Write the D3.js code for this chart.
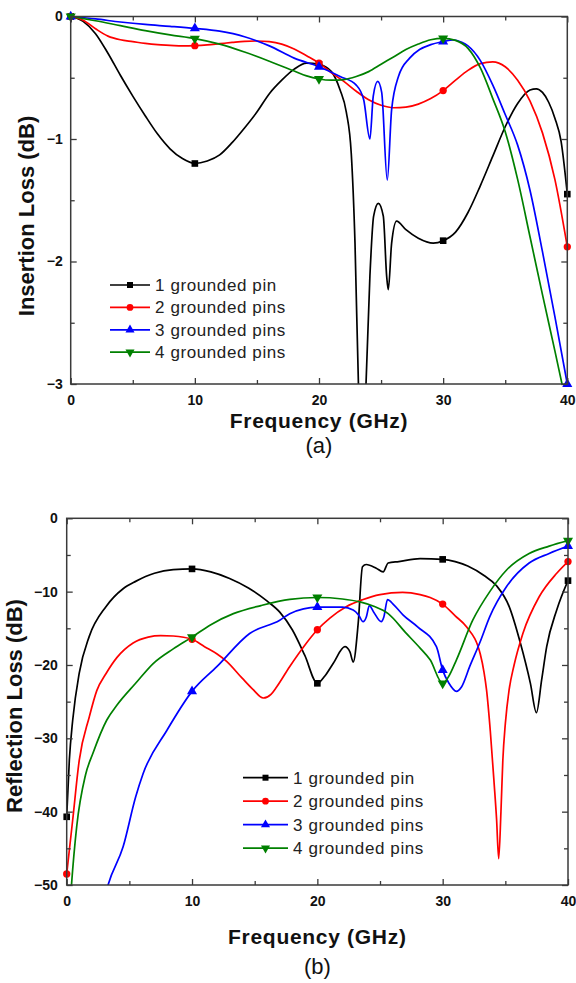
<!DOCTYPE html>
<html lang="en">
<head>
  <meta charset="UTF-8">
  <script src="https://cdn.jsdelivr.net/npm/d3@7"></script>
  <title>Insertion / Reflection Loss</title>
  <style>
    body { margin: 0; background: #fff; }
    text { font-family: "Liberation Sans", Arial, sans-serif; }
  </style>
</head>
<body>
  <svg width="576" height="983"></svg>
<script>
  const svg = d3.select("svg");

  // series names + colours
  const seriesNames = ["1 grounded pin", "2 grounded pins", "3 grounded pins", "4 grounded pins"];
  const seriesColors = ["#000000", "#ff0000", "#0000ff", "#008000"];
  const seriesSymbols = [d3.symbolSquare, d3.symbolCircle, d3.symbolTriangle, d3.symbolTriangle];
  const markerFreqs = [0, 10, 20, 30, 40];

  const xTicks = [0, 10, 20, 30, 40];
  const ilTicks = [0, -1, -2, -3];
  const rlTicks = [0, -10, -20, -30, -40, -50];

  // (a) insertion loss, [GHz, dB]
  const il1 = [[0,0],[1,-0.04],[2,-0.14],[3,-0.3],[4,-0.48],[5,-0.65],[6,-0.81],[7,-0.96],[8,-1.08],[9,-1.16],[10,-1.2],
    [11,-1.18],[12,-1.13],[13,-1.03],[14,-0.91],[15,-0.78],[16,-0.63],[17,-0.52],[18,-0.43],[19,-0.38],[20,-0.39],
    [21,-0.45],[21.7,-0.6],[22.2,-0.78],[22.6,-1.12],[22.9,-1.85],[23.2,-3.1],[23.45,-3.6],[23.75,-3.1],[24.1,-2.12],
    [24.4,-1.63],[24.78,-1.525],[25.18,-1.63],[25.45,-2.12],[25.58,-2.23],[25.85,-1.85],[26.25,-1.67],[27,-1.74],
    [28,-1.81],[29.2,-1.85],[30,-1.83],[31,-1.76],[32,-1.6],[33,-1.38],[34,-1.14],[35,-0.9],[36,-0.71],[37,-0.6],
    [37.5,-0.59],[38,-0.62],[38.5,-0.7],[39,-0.83],[39.5,-1.02],[40,-1.45]];
  const il2 = [[0,0],[1,-0.03],[2,-0.1],[3,-0.16],[4,-0.19],[5,-0.205],[6,-0.22],[7,-0.23],[8,-0.235],[9,-0.24],[10,-0.238],
    [11,-0.232],[12,-0.222],[13,-0.212],[14,-0.203],[15,-0.2],[16,-0.205],[17,-0.225],[18,-0.265],[19,-0.32],[20,-0.38],
    [21,-0.46],[22,-0.53],[23,-0.61],[24,-0.68],[25,-0.725],[26,-0.745],[27,-0.74],[28,-0.715],[29,-0.67],[30,-0.605],
    [31,-0.52],[32,-0.44],[33,-0.385],[34,-0.37],[35,-0.41],[36,-0.52],[37,-0.69],[38,-0.95],[39,-1.33],[40,-1.88]];
  const il3 = [[0,0],[2,-0.02],[4,-0.045],[6,-0.065],[8,-0.08],[10,-0.097],[12,-0.12],[14,-0.165],[16,-0.24],[18,-0.34],
    [20,-0.41],[21.7,-0.49],[23,-0.56],[23.6,-0.68],[24.1,-1.0],[24.37,-0.65],[24.73,-0.53],[25.05,-0.62],[25.5,-1.335],
    [25.85,-0.76],[26.4,-0.49],[27.3,-0.34],[28.1,-0.27],[29,-0.23],[30,-0.205],[30.8,-0.19],[31.5,-0.21],[32,-0.24],
    [33,-0.36],[34,-0.56],[35,-0.8],[36,-1.05],[37,-1.42],[38,-1.92],[39,-2.45],[40,-3.0]];
  const il4 = [[0,0],[2,-0.035],[4,-0.075],[6,-0.115],[8,-0.15],[10,-0.18],[12,-0.225],[14,-0.29],[16,-0.365],[18,-0.445],
    [19,-0.485],[20,-0.51],[21,-0.52],[22,-0.515],[23,-0.49],[24,-0.45],[25,-0.39],[26,-0.33],[27,-0.27],[28,-0.225],
    [29,-0.19],[30,-0.178],[31,-0.195],[32,-0.26],[33,-0.42],[34,-0.67],[35,-0.94],[36,-1.33],[37,-1.8],[38,-2.27],
    [39,-2.73],[40,-3.2]];

  // (b) reflection loss, [GHz, dB]
  const rl1 = [[0,-40.7],[0.21,-33],[0.48,-27.5],[1,-21.1],[1.8,-16.1],[3.13,-12.05],[4.5,-9.6],[5.5,-8.6],[7,-7.5],
    [8.5,-7.0],[10,-6.9],[11.5,-7.3],[13,-8.2],[14.5,-9.5],[16,-11.3],[17,-12.8],[18,-15.2],[19,-18.7],[20,-22.5],
    [20.6,-21.5],[21.26,-19.8],[22.2,-17.5],[22.6,-18.2],[22.86,-19.6],[23.26,-14.3],[23.6,-6.6],[23.9,-6.3],[24.7,-6.8],
    [25.25,-7.3],[25.65,-6.1],[26.5,-5.9],[28.2,-5.5],[30,-5.6],[31,-5.9],[32,-6.5],[33.3,-7.8],[34.3,-9.2],[35.3,-12],
    [36.2,-17],[37,-22.5],[37.48,-26.5],[37.9,-22],[38.3,-17.5],[39.1,-12.5],[40,-8.5]];
  const rl2 = [[0,-48.5],[0.48,-41.1],[1,-33],[1.8,-27.1],[2.4,-23.5],[3.13,-21.2],[4,-19],[5.3,-17],[6.5,-16.2],[7.5,-16],
    [8.5,-16.05],[10,-16.5],[11,-17.5],[12,-18.5],[12.76,-19.5],[14,-21.8],[14.9,-23.4],[15.68,-24.5],[16.3,-24],
    [16.75,-23],[17.8,-20.2],[19,-17.3],[20,-15.2],[21,-13.6],[22.3,-12.05],[23.6,-11.1],[25,-10.4],[26.8,-10.1],
    [28.2,-10.4],[29,-10.8],[30,-11.7],[31,-13.3],[31.9,-14.8],[33,-18.5],[33.3,-21],[33.5,-23.4],[33.8,-29],[34.1,-36],
    [34.3,-41],[34.47,-46.4],[34.65,-40],[34.8,-33],[35,-28],[35.3,-23.4],[35.7,-20],[36.4,-15.7],[37.7,-10.7],
    [39.1,-7.5],[40,-5.9]];
  const rl3 = [[3.0,-52],[3.3,-50],[4.5,-44.8],[5.5,-38],[6.1,-34.8],[8,-28.9],[10,-23.6],[12,-20.2],[14.6,-15.7],
    [17,-13.9],[17.8,-13],[20,-12.1],[22,-12.1],[22.86,-12.5],[23.3,-13.2],[23.65,-14.1],[23.9,-13.5],[24.15,-11.9],
    [24.5,-12.8],[25.1,-14.1],[25.3,-13.5],[25.6,-11.1],[26.1,-11.8],[26.85,-13.2],[28,-14.8],[29.5,-17.5],[30,-20.7],
    [30.5,-22.5],[31.1,-23.6],[31.5,-23],[32.16,-20.2],[33,-16.8],[33.76,-13.4],[35.1,-9.3],[36.9,-6.1],[38.5,-4.8],
    [40,-3.8]];
  const rl4 = [[0.3,-52],[0.34,-51],[0.8,-42],[1.5,-35],[2.1,-32],[3.2,-27.5],[4,-25.5],[5.5,-22.5],[6.9,-19.8],
    [8.5,-17.8],[10,-16.2],[11.5,-14.5],[13.3,-13],[15.5,-11.9],[17.8,-11.05],[20,-10.8],[22,-11],[23.4,-11.4],
    [24.5,-12],[25.65,-13],[27.1,-15.7],[28.2,-17.7],[29,-19.3],[30,-22.5],[30.5,-21.5],[31.1,-19.3],[32.4,-13.9],
    [33.76,-10],[35.1,-7.05],[36.9,-4.8],[38.5,-3.8],[40,-3.05]];

  function drawPanel(cfg) {
    const x = d3.scaleLinear().domain([0, 40]).range([cfg.left, cfg.right]);
    const y = d3.scaleLinear().domain(cfg.yDomain).range([cfg.top, cfg.bottom]);
    const g = svg.append("g").attr("class", cfg.id);

    g.append("defs").append("clipPath").attr("id", "clip-" + cfg.id)
      .append("rect")
      .attr("x", cfg.left).attr("y", cfg.top)
      .attr("width", cfg.right - cfg.left).attr("height", cfg.bottom - cfg.top);

    // lines
    const line = d3.line()
      .x(d => x(d[0]))
      .y(d => y(d[1]))
      .curve(d3.curveMonotoneX);

    const plot = g.append("g").attr("clip-path", "url(#clip-" + cfg.id + ")");
    cfg.series.forEach((s, i) => {
      plot.append("path")
        .attr("d", line(s))
        .attr("fill", "none")
        .attr("stroke", seriesColors[i])
        .attr("stroke-width", 1.7);
    });

    // markers every 10 GHz
    const yMin = d3.min(cfg.yDomain), yMax = d3.max(cfg.yDomain);
    cfg.series.forEach((s, i) => {
      const pts = s.filter(d => markerFreqs.includes(d[0]) && d[1] >= yMin && d[1] <= yMax);
      g.selectAll(".mk" + i)
        .data(pts)
        .join("path")
        .attr("transform", d => "translate(" + x(d[0]) + "," + y(d[1]) + ")" + (i === 3 ? " rotate(180)" : ""))
        .attr("d", d3.symbol().type(seriesSymbols[i]).size(i === 1 ? 42 : 44))
        .attr("fill", seriesColors[i]);
    });

    // axes, ticks pointing inwards
    const minorX = [5, 15, 25, 35];
    const minorY = cfg.minorY;
    const axisColor = "#3a3a3a";

    g.append("g").attr("transform", "translate(0," + cfg.bottom + ")")
      .call(d3.axisBottom(x).tickValues(xTicks).tickSize(-6).tickPadding(11).tickFormat(d3.format("d")));
    g.append("g").attr("transform", "translate(0," + cfg.bottom + ")")
      .call(d3.axisBottom(x).tickValues(minorX).tickSize(-4).tickFormat(""));
    g.append("g").attr("transform", "translate(0," + cfg.top + ")")
      .call(d3.axisTop(x).tickValues(xTicks).tickSize(-6).tickFormat(""));
    g.append("g").attr("transform", "translate(0," + cfg.top + ")")
      .call(d3.axisTop(x).tickValues(minorX).tickSize(-4).tickFormat(""));

    g.append("g").attr("transform", "translate(" + cfg.left + ",0)")
      .call(d3.axisLeft(y).tickValues(cfg.yTicks).tickSize(-6).tickPadding(cfg.yPad).tickFormat(d3.format("d")));
    g.append("g").attr("transform", "translate(" + cfg.left + ",0)")
      .call(d3.axisLeft(y).tickValues(minorY).tickSize(-4).tickFormat(""));
    g.append("g").attr("transform", "translate(" + cfg.right + ",0)")
      .call(d3.axisRight(y).tickValues(cfg.yTicks).tickSize(-6).tickFormat(""));
    g.append("g").attr("transform", "translate(" + cfg.right + ",0)")
      .call(d3.axisRight(y).tickValues(minorY).tickSize(-4).tickFormat(""));

    g.selectAll(".domain").remove();
    g.selectAll(".tick line").attr("stroke", axisColor).attr("stroke-width", 1.3);
    g.selectAll(".tick text")
      .attr("fill", "#111")
      .style("font-size", "14px")
      .style("font-weight", "bold")
      .style("font-family", "'Liberation Sans', Arial, sans-serif");

    g.append("rect")
      .attr("x", cfg.left).attr("y", cfg.top)
      .attr("width", cfg.right - cfg.left).attr("height", cfg.bottom - cfg.top)
      .attr("fill", "none")
      .attr("stroke", axisColor)
      .attr("stroke-width", 1.5);

    // axis titles
    g.append("text")
      .attr("x", (cfg.left + cfg.right) / 2)
      .attr("y", cfg.xTitleY)
      .attr("text-anchor", "middle")
      .attr("fill", "#111")
      .style("font-size", "21px")
      .style("font-weight", "bold")
      .style("letter-spacing", "0.7px")
      .text("Frequency (GHz)");

    g.append("text")
      .attr("transform", "translate(" + cfg.yTitleX + "," + cfg.yTitleY + ") rotate(-90)")
      .attr("text-anchor", "middle")
      .attr("fill", "#111")
      .style("font-size", "22px")
      .style("font-weight", "bold")
      .text(cfg.yTitle);

    g.append("text")
      .attr("x", (cfg.left + cfg.right) / 2)
      .attr("y", cfg.tagY)
      .attr("text-anchor", "middle")
      .attr("fill", "#111")
      .style("font-size", "22px")
      .text(cfg.tag);

    // legend
    const leg = g.append("g")
      .selectAll("g")
      .data(seriesNames)
      .join("g")
      .attr("transform", (d, i) => "translate(" + cfg.legX + "," + (cfg.legY + i * cfg.legStep) + ")");

    leg.append("line")
      .attr("x1", 0).attr("x2", cfg.legLen)
      .attr("stroke", (d, i) => seriesColors[i])
      .attr("stroke-width", 1.7);

    leg.append("path")
      .attr("transform", (d, i) => "translate(" + cfg.legLen / 2 + ",0)" + (i === 3 ? " rotate(180)" : ""))
      .attr("d", (d, i) => d3.symbol().type(seriesSymbols[i]).size(36)())
      .attr("fill", (d, i) => seriesColors[i]);

    leg.append("text")
      .attr("x", cfg.legLen + 5)
      .attr("y", 6)
      .attr("fill", "#222")
      .style("font-size", "17px")
      .style("letter-spacing", "0.6px")
      .text(d => d);
  }

  drawPanel({
    id: "il", left: 70.7, right: 567.3, top: 16.5, bottom: 384,
    yDomain: [0, -3], yTicks: ilTicks, minorY: [-0.5, -1.5, -2.5], yPad: 8,
    series: [il1, il2, il3, il4],
    yTitle: "Insertion Loss (dB)", yTitleX: 34, yTitleY: 216,
    xTitleY: 428, tag: "(a)", tagY: 453,
    legX: 110, legY: 285, legStep: 22.4, legLen: 40
  });

  drawPanel({
    id: "rl", left: 66.7, right: 568, top: 518.3, bottom: 885,
    yDomain: [0, -50], yTicks: rlTicks, minorY: [-5, -15, -25, -35, -45], yPad: 9,
    series: [rl1, rl2, rl3, rl4],
    yTitle: "Reflection Loss (dB)", yTitleX: 21.5, yTitleY: 706,
    xTitleY: 944, tag: "(b)", tagY: 974,
    legX: 243, legY: 777.7, legStep: 23.5, legLen: 45
  });
</script>
</body>
</html>
